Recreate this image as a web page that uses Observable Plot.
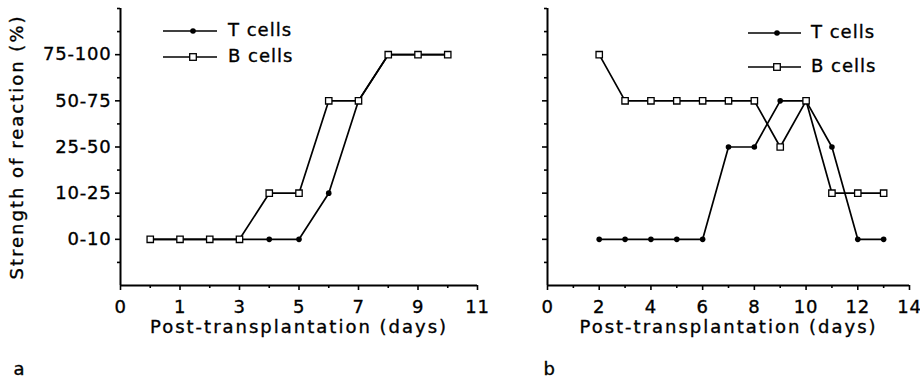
<!DOCTYPE html>
<html><head><meta charset="utf-8">
<script src="https://cdn.jsdelivr.net/npm/d3@7"></script>
<script src="https://cdn.jsdelivr.net/npm/@observablehq/plot@0.6"></script>
<style>
body{margin:0;background:#fff;}
#wrap{display:flex;width:920px;height:383px;}
svg text{font-family:"DejaVu Sans";stroke:black;stroke-width:0.35px;}
g[aria-label="text"] text{letter-spacing:2px}
g[aria-label$="tick label"] text{letter-spacing:0.8px}
.leg text{letter-spacing:1px}
</style></head><body><div id="wrap"></div><script>
// ---- data ----
const daysA = [0,1,2,3,4,5,6,7,8,9,10];
const tCellsA = [1,1,1,1,1,1,2,4,5,5,5];
const bCellsA = [1,1,1,1,2,2,4,4,5,5,5];
const daysB = [2,3,4,5,6,7,8,9,10,11,12,13];
const tCellsB = [1,1,1,1,1,3,3,4,4,3,1,1];
const bCellsB = [5,4,4,4,4,4,4,3,4,2,2,2];
const levelTicks = [1,2,3,4,5];
const levelLabels = ["0-10","10-25","25-50","50-75","75-100"];
const levelMinor = [0.5,1.5,2.5,3.5,4.5,5.5,6];
const xTicksA = [-1,1,3,5,7,9,11];
const xLabelsA = ["0","1","3","5","7","9","11"];
const xMinorA = [0,2,4,6,8,10];
const xTicksB = [0,2,4,6,8,10,12,14];
const xLabelsB = ["0","2","4","6","8","10","12","14"];
const xMinorB = [1,3,5,7,9,11,13];
const seriesNames = ["T cells","B cells"];
const xTitle = "Post-transplantation (days)";
const yTitle = "Strength of reaction (%)";
const panelLetters = ["a","b"];

function legendMark(lx1, lx2, mx, tx, rows) {
  return () => {
    const g = d3.create("svg:g").attr("class","leg");
    seriesNames.forEach((name, i) => {
      const y = rows[i];
      g.append("line").attr("x1",lx1).attr("x2",lx2).attr("y1",y).attr("y2",y)
        .attr("stroke","black").attr("stroke-width",1.6);
      if (i === 0) g.append("circle").attr("cx",mx).attr("cy",y).attr("r",2.8).attr("fill","black");
      else g.append("rect").attr("x",mx-3.3).attr("y",y-3.3).attr("width",6.6).attr("height",6.6)
        .attr("fill","white").attr("stroke","black").attr("stroke-width",1.3);
      g.append("text").attr("x",tx).attr("y",y+5).attr("font-size",18).attr("fill","black")
        .attr("text-anchor","start").text(name);
    });
    return g.node();
  };
}

function panel(o) {
  const T = o.days.map((d,i)=>({day:d, level:o.t[i]}));
  const B = o.days.map((d,i)=>({day:d, level:o.b[i]}));
  const marks = [
    Plot.ruleY([0],{strokeWidth:2}),
    Plot.ruleX([o.xDomain[0]],{strokeWidth:2}),
    Plot.axisX(o.xTicks,{tickSize:5,tickPadding:10,tickFormat:(d)=>o.xLabels[o.xTicks.indexOf(d)],fontSize:18,strokeWidth:1.6,label:null}),
    Plot.axisX(o.xMinor,{tickSize:3,tickFormat:()=>"",strokeWidth:1.6,label:null}),
    Plot.axisY(levelTicks,{tickSize:5,tickPadding:4,tickFormat:o.yLabels?(d)=>levelLabels[d-1]:()=>"",fontSize:18,strokeWidth:1.6,label:null}),
    Plot.axisY(levelMinor,{tickSize:3,tickFormat:()=>"",strokeWidth:1.6,label:null}),
    Plot.line(B,{x:"day",y:"level",strokeWidth:1.7}),
    Plot.line(T,{x:"day",y:"level",strokeWidth:1.7}),
    Plot.dot(T,{x:"day",y:"level",r:2.8,fill:"black"}),
    Plot.dot(B,{x:"day",y:"level",symbol:"square",r:3.6,fill:"white",stroke:"black",strokeWidth:1.3}),
    Plot.text([xTitle],{text:d=>d,frameAnchor:"bottom",dy:47,fontSize:18}),
    Plot.text([o.letter],{text:d=>d,frameAnchor:"bottom-left",textAnchor:"start",dx:o.letterDx,dy:89,fontSize:18}),
    o.legend
  ];
  if (o.yTitle) marks.push(Plot.text([yTitle],{text:d=>d,frameAnchor:"left",textAnchor:"middle",rotate:-90,dx:-103,fontSize:18}));
  return Plot.plot({
    width:o.width, height:383, marginLeft:o.marginLeft, marginRight:o.marginRight, marginTop:8, marginBottom:98,
    x:{domain:o.xDomain,label:null}, y:{domain:[0,6],label:null},
    style:{fontFamily:"DejaVu Sans",fontSize:"18px",background:"transparent",color:"black",overflow:"visible"},
    marks
  });
}

const wrap = document.getElementById("wrap");
wrap.append(panel({days:daysA,t:tCellsA,b:bCellsA,width:485,marginLeft:120,marginRight:8,xDomain:[-1,11],
  xTicks:xTicksA,xLabels:xLabelsA,xMinor:xMinorA,yLabels:true,yTitle:true,letter:panelLetters[0],letterDx:-107,
  legend:legendMark(163,217,193,228,[31,57])}));
wrap.append(panel({days:daysB,t:tCellsB,b:bCellsB,width:435,marginLeft:62,marginRight:11,xDomain:[0,14],
  xTicks:xTicksB,xLabels:xLabelsB,xMinor:xMinorB,yLabels:false,yTitle:false,letter:panelLetters[1],letterDx:-4,
  legend:legendMark(263,316,292,326,[33,67])}));
</script></body></html>
